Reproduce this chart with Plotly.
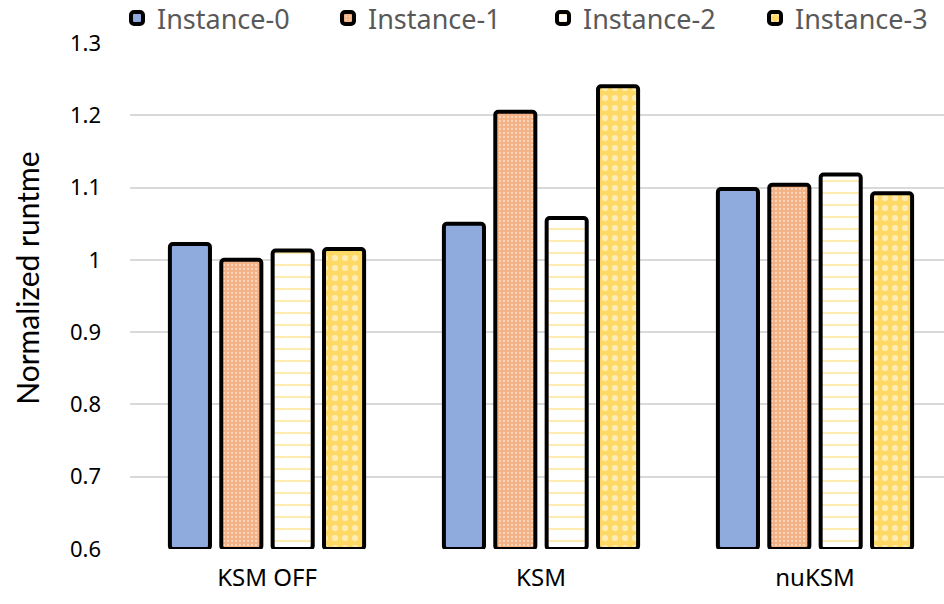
import plotly.graph_objects as go

# Benchmark runtime, normalized, per configuration and VM instance
categories = ["KSM OFF", "KSM", "nuKSM"]
instance_names = ["Instance-0", "Instance-1", "Instance-2", "Instance-3"]
instance_0 = [1.022, 1.050, 1.098]
instance_1 = [1.000, 1.205, 1.104]
instance_2 = [1.013, 1.058, 1.118]
instance_3 = [1.015, 1.240, 1.092]

y_ticks = [0.6, 0.7, 0.8, 0.9, 1.0, 1.1, 1.2, 1.3]
y_tick_text = ["0.6", "0.7", "0.8", "0.9", "1", "1.1", "1.2", "1.3"]
y_title = "Normalized runtme"
y_base = 0.6

FONT = "Noto Sans"
W, H = 944, 604
PLOT_H = H - 43 - 55

styles = [
    dict(color="#8FAADC"),
    dict(color="#F4B183",
         pattern=dict(shape=".", fgcolor="white", bgcolor="#F4B183",
                      size=4, solidity=0.25)),
    dict(color="white",
         pattern=dict(shape="-", fgcolor="#FFD966", bgcolor="white",
                      size=12, solidity=0.18)),
    dict(color="#FFD966",
         pattern=dict(shape=".", fgcolor="white", bgcolor="#FFD966",
                      size=10, solidity=0.3)),
]

# each series gets its own legend so entries sit at fixed positions
legend_text_x = [162, 373, 588, 800]
legend_ids = ["legend", "legend2", "legend3", "legend4"]

fig = go.Figure()
for name, vals, st, lid in zip(instance_names,
                               [instance_0, instance_1, instance_2, instance_3],
                               styles, legend_ids):
    fig.add_trace(go.Bar(
        name=name,
        x=categories,
        y=[v - y_base for v in vals],
        base=y_base,
        customdata=vals,
        hovertemplate="%{x}: %{customdata}<extra>" + name + "</extra>",
        marker=dict(**st, line=dict(color="black", width=4), cornerradius=3),
        legend=lid,
        showlegend=True,
    ))

legend_layout = {}
for lid, tx in zip(legend_ids, legend_text_x):
    legend_layout[lid] = dict(
        xref="container", yref="paper",
        x=(tx - 45) / W, xanchor="left",
        y=1 + 49 / PLOT_H, yanchor="top",
        orientation="h",
        font=dict(family=FONT, size=27, color="#595959"),
        bgcolor="rgba(0,0,0,0)",
        itemwidth=30,
    )

fig.update_layout(
    width=W, height=H,
    showlegend=True,
    barmode="group",
    bargap=0.25,
    bargroupgap=0.22,
    plot_bgcolor="white",
    paper_bgcolor="white",
    margin=dict(l=130, r=0, t=43, b=55, autoexpand=False),
    font=dict(family=FONT, color="black", size=22),
    **legend_layout,
    xaxis=dict(
        range=[-0.5, 2.4708],
        showgrid=False,
        showline=False,
        ticks="",
        tickfont=dict(size=24),
        ticklabelstandoff=12,
    ),
    yaxis=dict(
        range=[0.6, 1.3],
        tickvals=y_ticks,
        ticktext=y_tick_text,
        showgrid=True,
        gridcolor="#D9D9D9",
        gridwidth=1.5,
        zeroline=False,
        showline=False,
        tickfont=dict(size=22),
        ticklabelstandoff=28,
    ),
    annotations=[dict(
        text=y_title,
        textangle=-90,
        xref="paper", yref="paper",
        x=-(130 - 27) / 814, y=0.534,
        xanchor="center", yanchor="middle",
        showarrow=False,
        font=dict(family="Lato", size=30, color="black"),
    )],
)

fig.write_html("out.html")
